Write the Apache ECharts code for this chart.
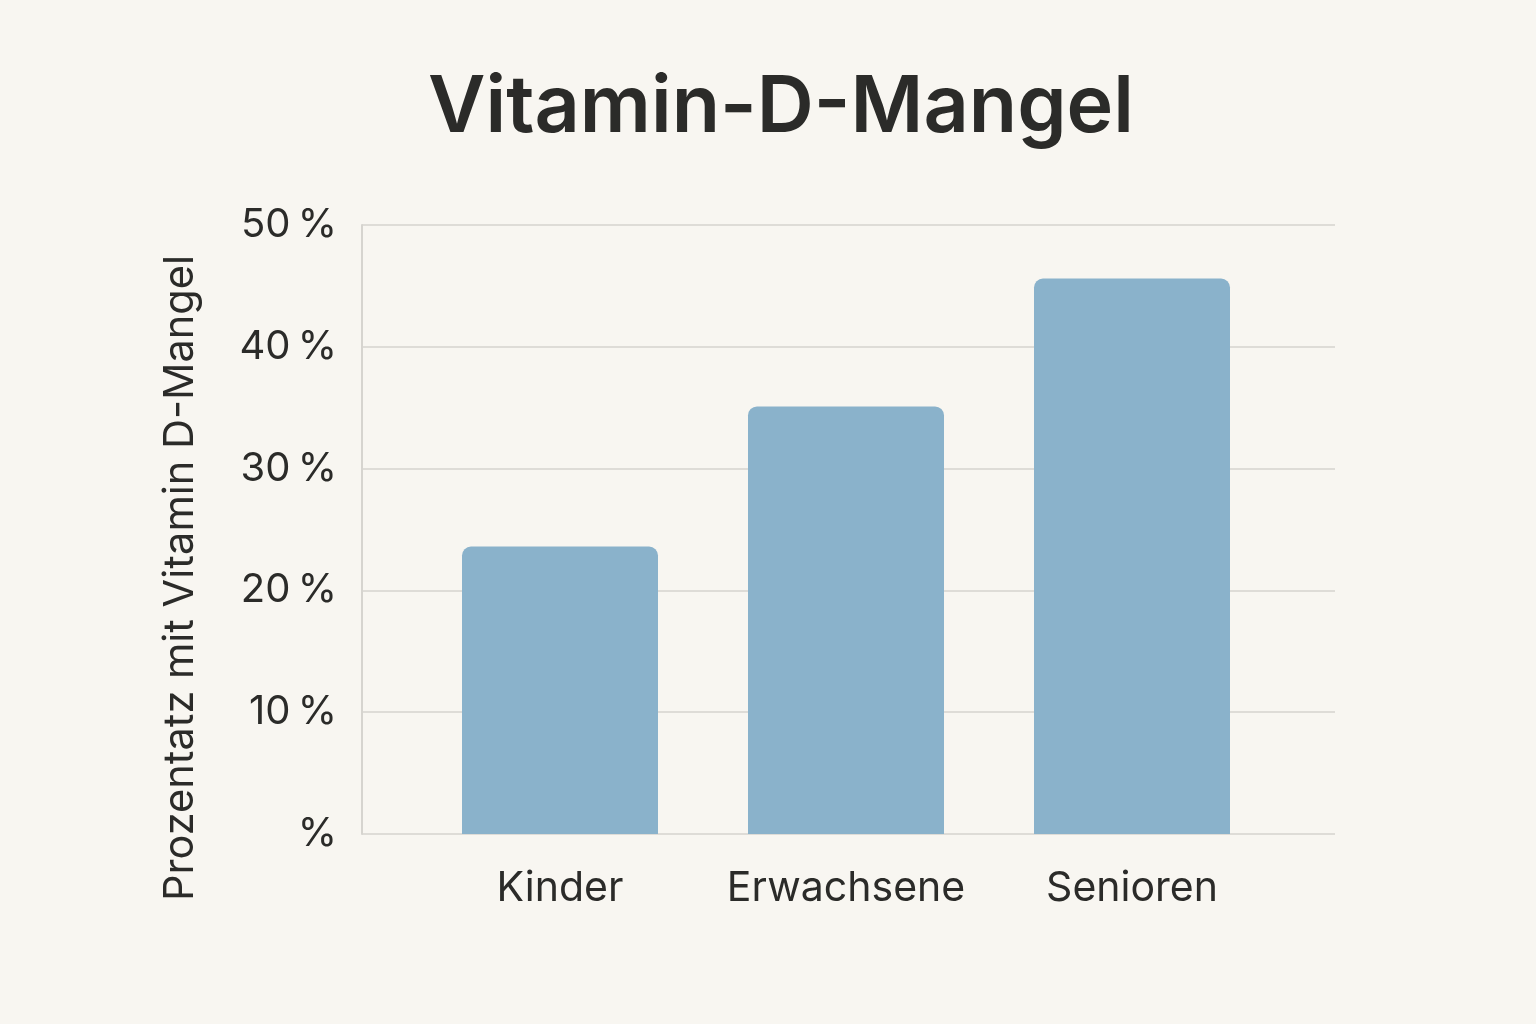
<!DOCTYPE html>
<html>
<head>
<meta charset="utf-8">
<script src="https://cdn.jsdelivr.net/npm/echarts@6/dist/echarts.min.js"></script>
<style>
html,body{margin:0;padding:0;background:#f8f6f1;}
#c{width:1536px;height:1024px;}
</style>
</head>
<body>
<div id="c"></div>
<script>
var titleText = 'Vitamin-D-Mangel';
var yAxisTitle = 'Prozentatz mit Vitamin D-Mangel';
var categories = ['Kinder', 'Erwachsene', 'Senioren'];
var values = [23.6, 35.1, 45.6];
var yTicks = [0, 10, 20, 30, 40, 50];

var chart = echarts.init(document.getElementById('c'));
var font = 'Inter, "Noto Sans", sans-serif';
chart.setOption({
  backgroundColor: '#f8f6f1',
  title: {
    text: titleText,
    left: 776,
    textAlign: 'center',
    top: 64,
    textStyle: {fontFamily: font, fontSize: 79, fontWeight: 600, color: '#2b2b29'}
  },
  graphic: [{
    type: 'text',
    x: 181, y: 578,
    rotation: Math.PI / 2,
    style: {
      text: yAxisTitle,
      fontFamily: font, fontSize: 41.5, fill: '#2b2b29',
      textAlign: 'center', textVerticalAlign: 'middle'
    }
  }],
  grid: [
    {left: 362, right: 201, top: 225, bottom: 190},
    {left: 417, right: 261, top: 225, bottom: 190}
  ],
  xAxis: [
    {gridIndex: 0, type: 'category', data: categories, show: false},
    {gridIndex: 1, type: 'category', data: categories,
     axisLine: {show: false}, axisTick: {show: false},
     axisLabel: {interval: 0, fontFamily: font, fontSize: 41, color: '#2b2b29', margin: 34}}
  ],
  yAxis: [
    {gridIndex: 0, type: 'value', min: yTicks[0], max: yTicks[yTicks.length - 1], interval: 10,
     axisLine: {show: true, lineStyle: {color: '#d6d4cf', width: 2}},
     axisTick: {show: false},
     splitLine: {lineStyle: {color: '#dedcd7', width: 2}},
     axisLabel: {fontFamily: font, fontSize: 40, color: '#2b2b29', margin: 25,
       formatter: function (v) { return v === 0 ? '%' : v + '\u2009%'; }}},
    {gridIndex: 1, type: 'value', min: yTicks[0], max: yTicks[yTicks.length - 1], interval: 10, show: false}
  ],
  series: [{
    type: 'bar',
    xAxisIndex: 1, yAxisIndex: 1,
    data: values,
    barWidth: 196,
    itemStyle: {color: '#8ab2cb', borderRadius: [9, 9, 0, 0]}
  }]
});
</script>
</body>
</html>
